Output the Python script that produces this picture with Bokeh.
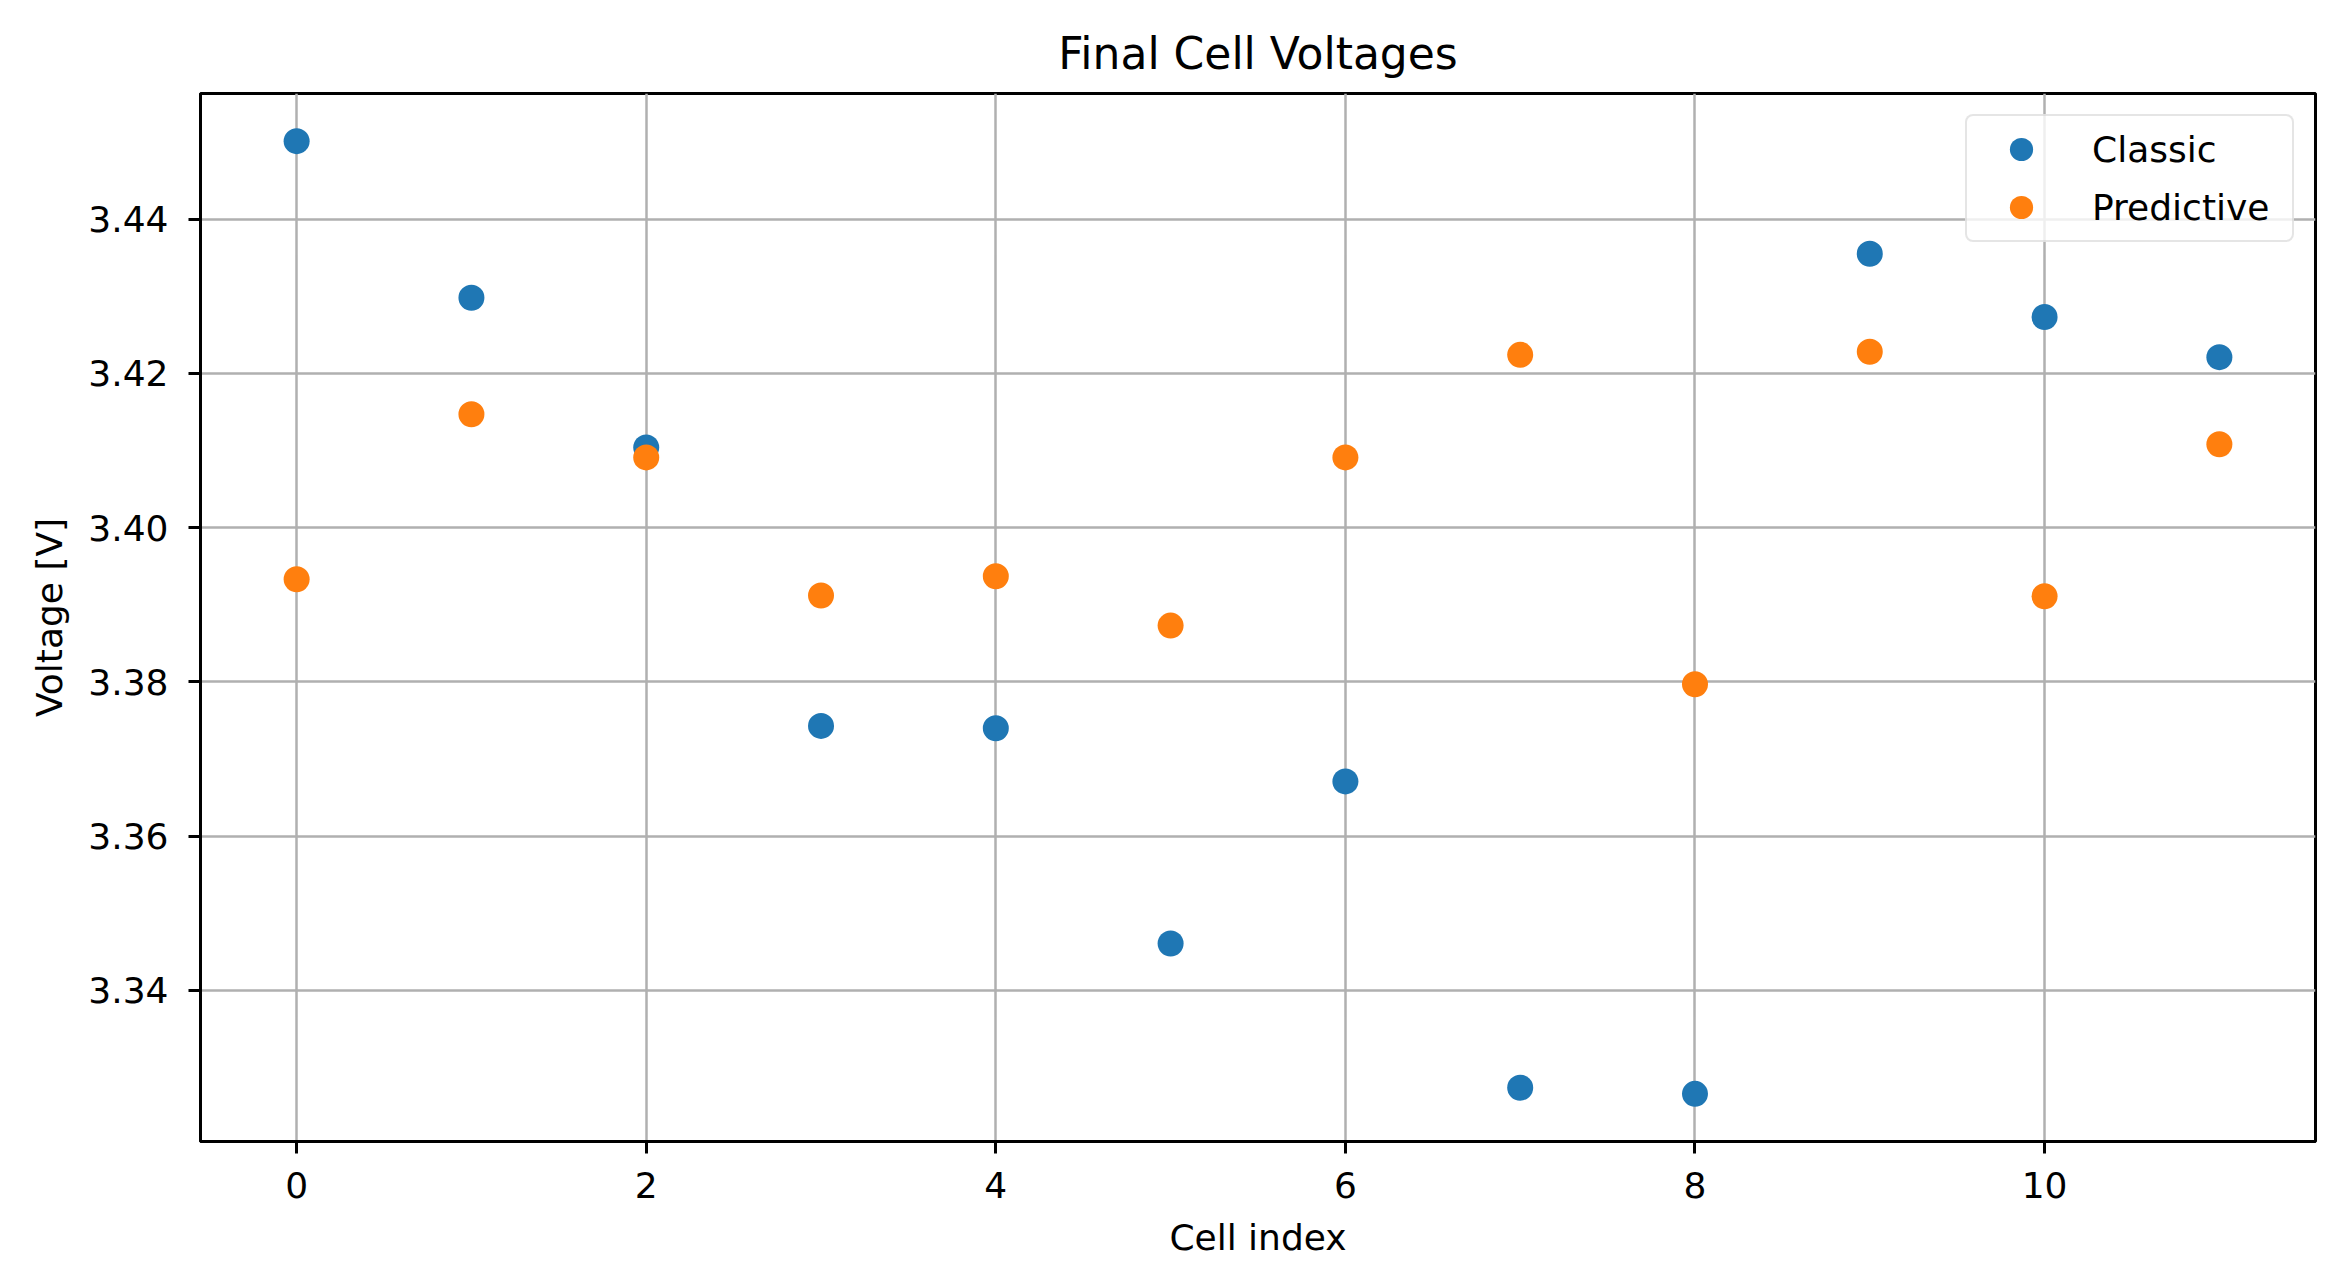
from bokeh.plotting import figure
from bokeh.models import Range1d, FixedTicker, PrintfTickFormatter, ColumnDataSource, Legend, LegendItem
from bokeh.embed import file_html
from bokeh.resources import INLINE

# ---- data ----
cells = list(range(12))
classic = [3.4501, 3.4298, 3.4104, 3.3743, 3.3740, 3.3461, 3.3671, 3.3274, 3.3266, 3.4355, 3.4273, 3.4221]
predictive = [3.3933, 3.4147, 3.4091, 3.3912, 3.3937, 3.3873, 3.4091, 3.4224, 3.3797, 3.4228, 3.3911, 3.4108]
x_ticks = [0, 2, 4, 6, 8, 10]
y_ticks = [3.34, 3.36, 3.38, 3.40, 3.42, 3.44]

FONT = "DejaVu Sans"
BLUE = "#1f77b4"
ORANGE = "#ff7f0e"

# matplotlib-like 5% margins
xmin, xmax = min(cells), max(cells)
allv = classic + predictive
ymin, ymax = min(allv), max(allv)
xm = 0.05 * (xmax - xmin)
ym = 0.05 * (ymax - ymin)

p = figure(width=2333, height=1260, output_backend="svg", toolbar_location=None,
           x_range=Range1d(xmin - xm, xmax + xm), y_range=Range1d(ymin - ym, ymax + ym),
           min_border_left=200, min_border_right=18, min_border_top=93, min_border_bottom=116,
           title="Final Cell Voltages")

p.title.align = "center"
p.title.text_font = FONT
p.title.text_font_size = "44px"
p.title.text_font_style = "normal"
p.title.text_color = "black"
p.title.standoff = 30

p.background_fill_color = "white"
p.border_fill_color = "white"
p.outline_line_color = "black"
p.outline_line_width = 3

src_c = ColumnDataSource(dict(x=cells, y=classic))
src_p = ColumnDataSource(dict(x=cells, y=predictive))
r1 = p.scatter("x", "y", source=src_c, size=26, fill_color=BLUE, line_color=BLUE, line_width=0)
r2 = p.scatter("x", "y", source=src_p, size=26, fill_color=ORANGE, line_color=ORANGE, line_width=0)

p.xaxis.ticker = FixedTicker(ticks=x_ticks)
p.yaxis.ticker = FixedTicker(ticks=y_ticks)
p.yaxis.formatter = PrintfTickFormatter(format="%.2f")

for ax in (p.xaxis[0], p.yaxis[0]):
    ax.axis_line_color = "black"
    ax.axis_line_width = 3
    ax.major_tick_line_color = "black"
    ax.major_tick_line_width = 3
    ax.major_tick_in = 0
    ax.major_tick_out = 12
    ax.minor_tick_line_color = None
    ax.major_label_text_font = FONT
    ax.major_label_text_font_size = "36px"
    ax.major_label_text_color = "black"
    ax.axis_label_text_font = FONT
    ax.axis_label_text_font_size = "36px"
    ax.axis_label_text_font_style = "normal"
    ax.axis_label_text_color = "black"

p.xaxis.axis_label = "Cell index"
p.yaxis.axis_label = "Voltage [V]"
p.xaxis.major_label_standoff = 18
p.xaxis.axis_label_standoff = 16
p.yaxis.major_label_standoff = 20
p.yaxis.axis_label_standoff = 15

p.xgrid.grid_line_color = "#b0b0b0"
p.ygrid.grid_line_color = "#b0b0b0"
p.xgrid.grid_line_width = 2.5
p.ygrid.grid_line_width = 2.5

legend = Legend(items=[LegendItem(label="Classic", renderers=[r1]),
                       LegendItem(label="Predictive", renderers=[r2])],
                location="top_right")
legend.margin = 21
legend.padding = 4
legend.spacing = 0
legend.glyph_width = 100
legend.glyph_height = 58
legend.label_height = 58
legend.label_width = 196
legend.label_standoff = 21
legend.label_text_font = FONT
legend.label_text_font_size = "36px"
legend.label_text_color = "black"
legend.border_line_color = "#cccccc"
legend.border_line_width = 2.5
legend.background_fill_color = "white"
legend.background_fill_alpha = 0.8
try:
    legend.border_radius = 8
except Exception:
    pass
p.add_layout(legend, "center")

open("out.html", "w").write(file_html(p, INLINE))
